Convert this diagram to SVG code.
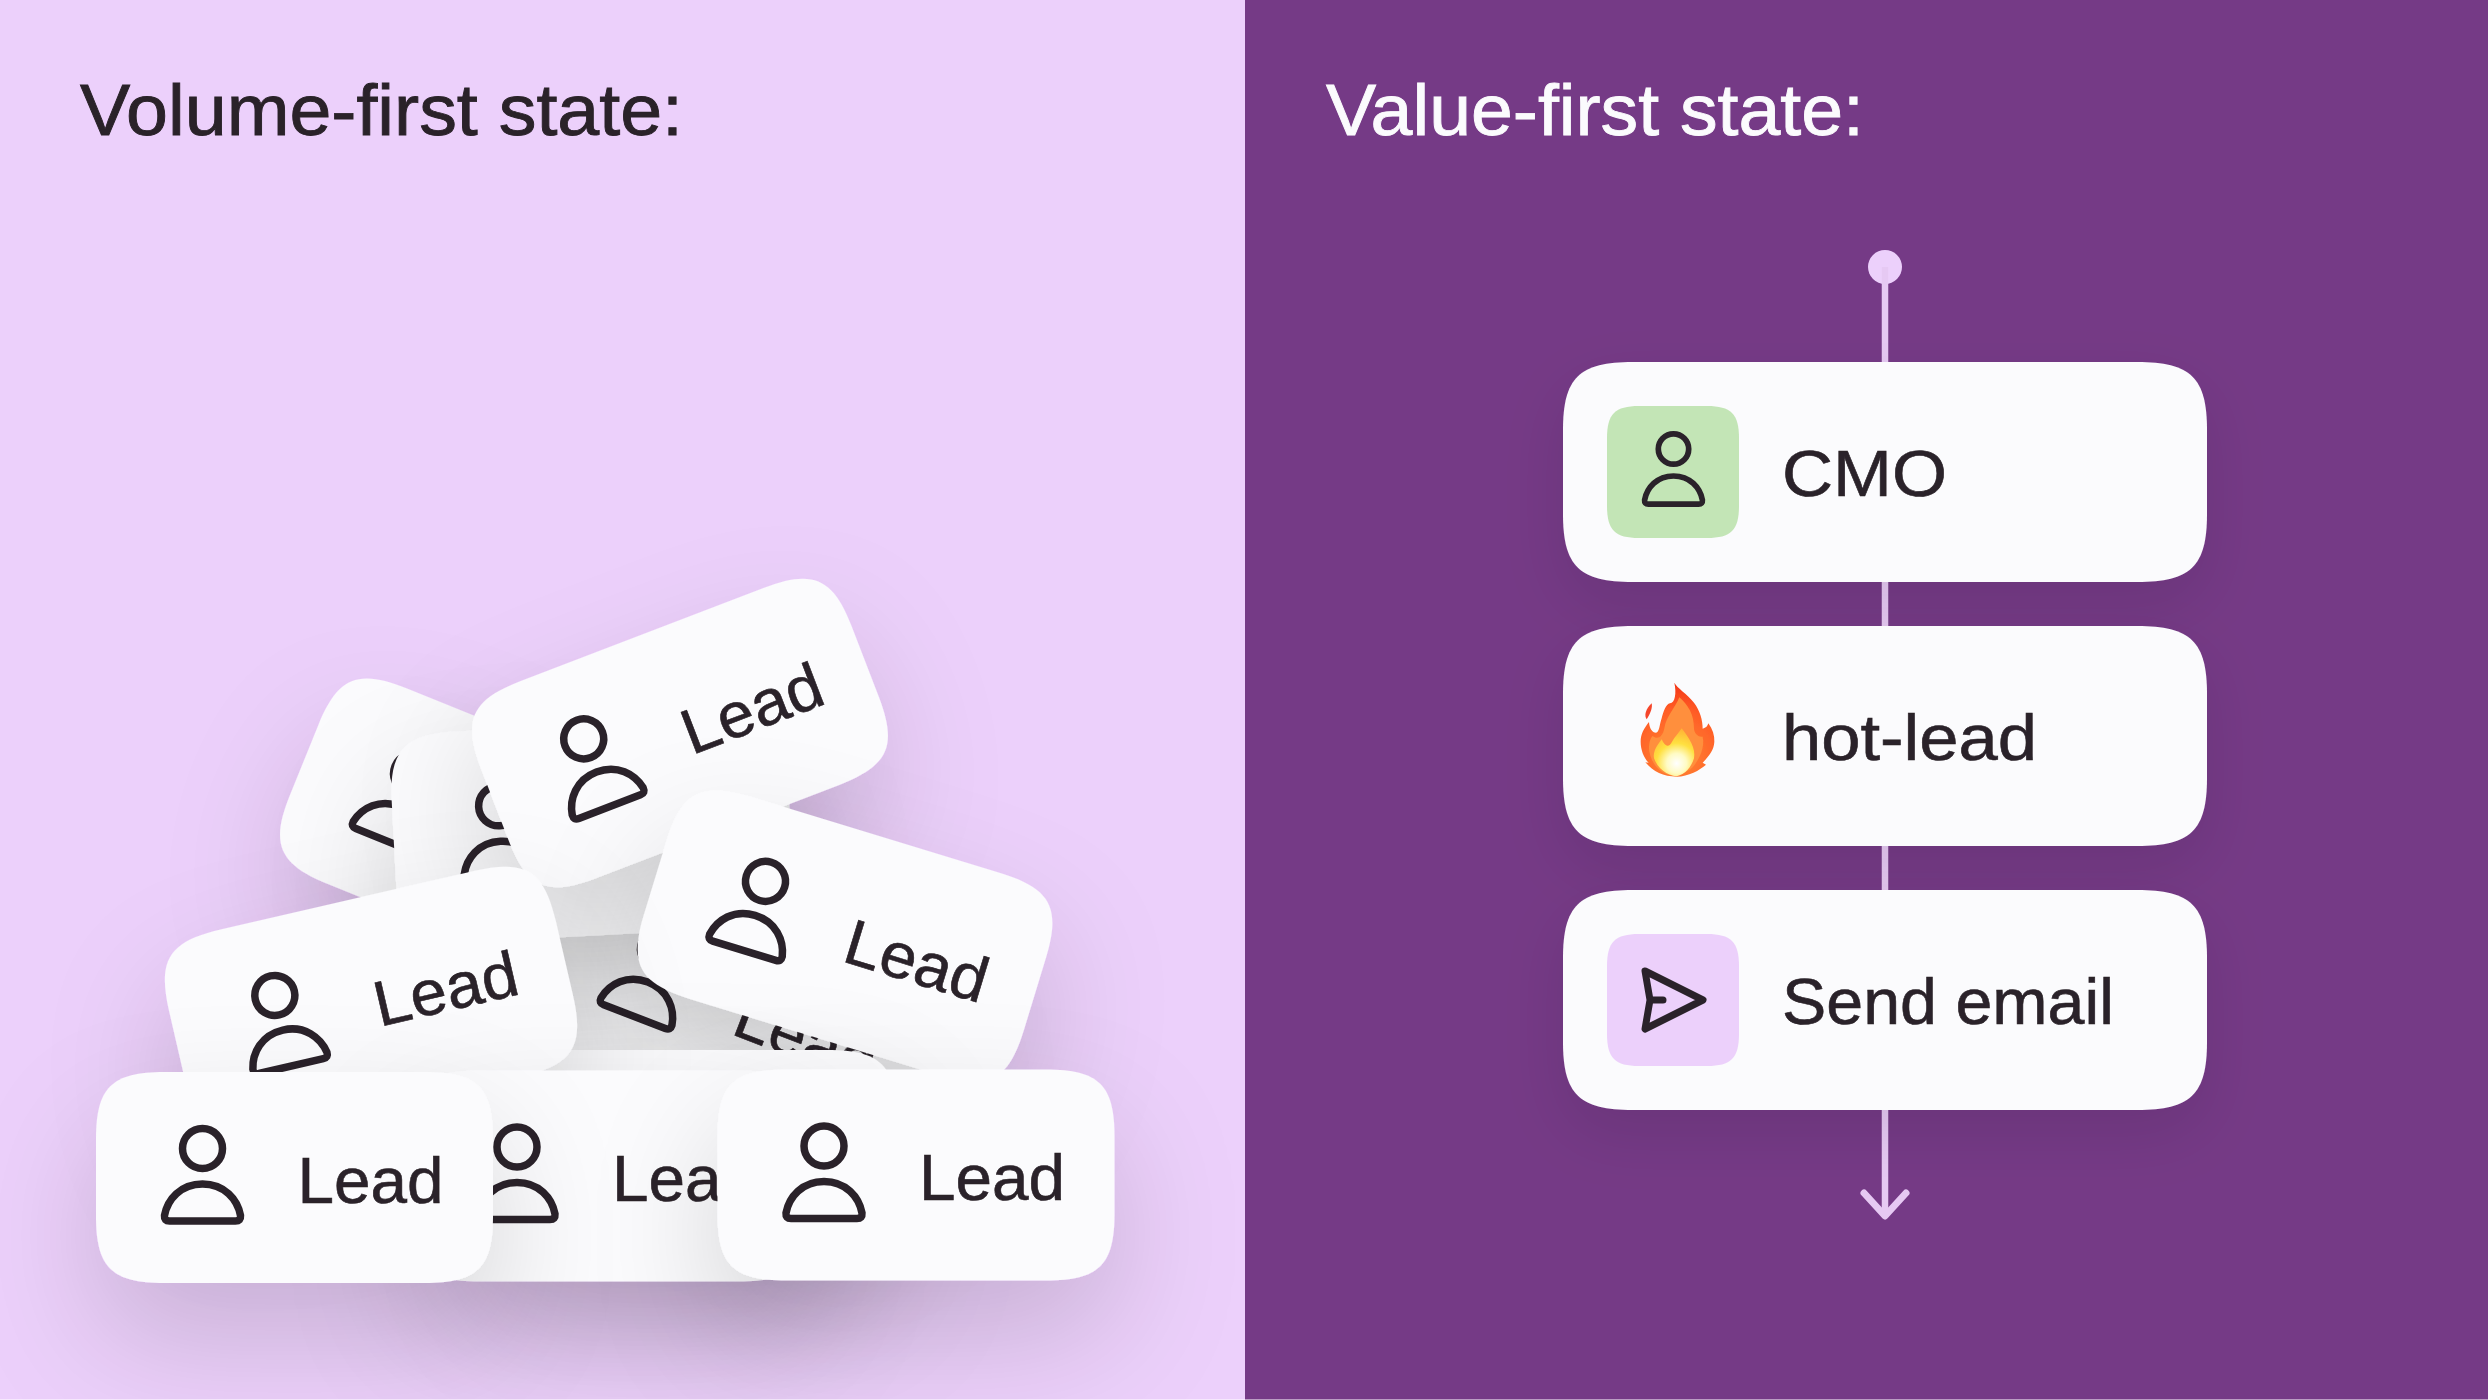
<svg xmlns="http://www.w3.org/2000/svg" width="2488" height="1400" viewBox="0 0 2488 1400">
<style>
text{font-family:"Liberation Sans",Arial,sans-serif;fill:#2a2229;stroke:#2a2229;stroke-width:.6}
.title{font-size:72px;stroke-width:.9px}
.title.light{fill:#fbfbfd;stroke:#fbfbfd}
.lead{font-size:64px}
.step{font-size:65px}
.card{fill:#fbfbfd}
.ico{fill:none;stroke:#2a2229;stroke-width:7.5;stroke-linejoin:round;stroke-linecap:round}
.wire{fill:none;stroke:#e6c9f3;stroke-width:6.5}
</style>
<defs>
<filter id="sh" filterUnits="userSpaceOnUse" x="0" y="0" width="2488" height="1400">
<feDropShadow dx="0" dy="58" stdDeviation="62" flood-color="#000" flood-opacity=".15"/>
</filter>
<filter id="shr" filterUnits="userSpaceOnUse" x="1245" y="0" width="1243" height="1400">
<feDropShadow dx="0" dy="24" stdDeviation="30" flood-color="#000" flood-opacity=".09"/>
</filter>
<path id="c-s" d="M-130-105.500H130C183-105.500 198.500-90 198.500-38V38C198.500 90 183 105.500 130 105.500H-130C-183 105.500-198.500 90-198.500 38V-38C-198.500-90-183-105.500-130-105.500Z"/>
<path id="c-l" d="M-252-110H252C306-110 322-94 322-42V42C322 94 306 110 252 110H-252C-306 110-322 94-322 42V-42C-322-94-306-110-252-110Z"/>
<path id="tile" d="M-34-66H34C58-66 66-58 66-34V34C66 58 58 66 34 66H-34C-58 66-66 58-66 34V-34C-66-58-58-66-34-66Z"/>
<g id="person" class="ico">
<circle cx="0" cy="0" r="20"/>
<path d="M0 35.500C22 35.500 35 51 38 67Q38.500 72.500 33 72.500H-33Q-38.500 72.500-38 67C-35 51-22 35.500 0 35.500Z"/>
</g>
<g id="lead-face">
<use href="#c-s" class="card"/>
<use href="#person" x="-92" y="-29"/>
<text class="lead" x="3" y="25" textLength="146" lengthAdjust="spacingAndGlyphs">Lead</text>
</g>
<marker id="arrow" markerUnits="userSpaceOnUse" markerWidth="60" markerHeight="60" refX="30" refY="30" orient="auto" overflow="visible">
<path d="M9 9L32 30L9 51" fill="none" stroke="#e6c9f3" stroke-width="7" stroke-linecap="round" stroke-linejoin="round"/>
</marker>
<radialGradient id="fl" gradientUnits="userSpaceOnUse" cx="170" cy="290" r="240">
<stop offset="0" stop-color="#ff8a35"/><stop offset=".6" stop-color="#ff5c26"/><stop offset="1" stop-color="#f02a14"/>
</radialGradient>
<radialGradient id="fi" gradientUnits="userSpaceOnUse" cx="170" cy="310" r="135">
<stop offset="0" stop-color="#ffffff"/><stop offset=".22" stop-color="#fffbc4"/><stop offset=".45" stop-color="#ffe040"/><stop offset=".8" stop-color="#ffae34"/><stop offset="1" stop-color="#ff9a34"/>
</radialGradient>
</defs>

<g id="panels">
<rect x="0" y="0" width="1245" height="1400" fill="#ecd0fb"/>
<rect x="1245" y="0" width="1243" height="1400" fill="#753a86"/>
</g>

<g id="pile">
<g id="lead-back-left" filter="url(#sh)"><use href="#lead-face" transform="translate(488 835) rotate(22)"/></g>
<g id="lead-back-right" filter="url(#sh)"><use href="#lead-face" transform="translate(736 1009) rotate(21)"/></g>
<g id="lead-upright" filter="url(#sh)"><use href="#lead-face" transform="translate(592 830) rotate(-3)"/></g>
<g id="lead-top" filter="url(#sh)"><use href="#lead-face" transform="translate(680 733) rotate(-21)"/></g>
<g id="lead-right" filter="url(#sh)"><use href="#lead-face" transform="translate(845 936) rotate(17)"/></g>
<g id="lead-shelf" filter="url(#sh)"><use href="#c-s" class="card" transform="translate(697.500 1155.500)"/></g>
<g id="lead-left" filter="url(#sh)"><use href="#lead-face" transform="translate(371 1003) rotate(-13)"/></g>
<g id="lead-bottom-mid" filter="url(#sh)"><use href="#lead-face" transform="translate(609 1176)"/></g>
<g id="lead-bottom-left" filter="url(#sh)"><use href="#lead-face" transform="translate(294.500 1177.500)"/></g>
<g id="lead-bottom-right" filter="url(#sh)"><use href="#lead-face" transform="translate(916 1175)"/></g>
</g>

<g id="connectors">
<circle cx="1885" cy="267" r="17" fill="#ecd0fb"/>
<line class="wire" x1="1885" y1="267" x2="1885" y2="1214" marker-end="url(#arrow)"/>
</g>

<g id="step-cmo" filter="url(#shr)">
<use href="#c-l" class="card" transform="translate(1885 472)"/>
<use href="#tile" transform="translate(1673 472)" fill="#c3e5b6"/>
<use href="#person" transform="translate(1673.500 449) scale(.76)"/>
<text class="step" x="1782" y="496" textLength="165" lengthAdjust="spacingAndGlyphs">CMO</text>
</g>

<g id="step-hot-lead" filter="url(#shr)">
<use href="#c-l" class="card" transform="translate(1885 736)"/>
<g id="flame" transform="translate(1620 660) scale(.33333)">
<path fill="#f5452a" d="M95 130C98 142 92 160 80 178C72 168 76 148 95 130Z"/>
<path fill="url(#fl)" d="M163 68C172 85 200 100 222 128C240 152 248 180 248 206C258 204 263 198 265 190C278 208 284 226 283 245C282 268 270 285 248 308L258 314C240 330 205 350 170 350C130 350 100 335 76 307L86 308C70 292 62 268 62 245C62 222 72 205 87 186C88 205 97 218 108 218C118 218 118 195 125 175C130 155 138 132 150 130C165 128 170 100 163 68Z"/>
<path fill="#ff8f3c" d="M178 112C205 135 222 165 222 205C222 218 232 232 248 230C255 260 240 295 218 322C198 340 170 348 150 346C118 338 95 310 88 275C85 255 90 235 98 228C112 240 128 232 133 205C138 170 165 145 178 112Z"/>
<path fill="url(#fi)" d="M185 205C208 235 228 265 222 295C214 322 195 344 170 349C142 347 112 325 102 295C98 275 112 255 125 238C135 262 148 262 156 245C165 230 175 220 185 205Z"/>
</g>
<text class="step" x="1782" y="760" textLength="255" lengthAdjust="spacingAndGlyphs">hot-lead</text>
</g>

<g id="step-send-email" filter="url(#shr)">
<use href="#c-l" class="card" transform="translate(1885 1000)"/>
<use href="#tile" transform="translate(1673 1000)" fill="#ecd0fb"/>
<path class="ico" style="stroke-width:7" d="M1645 971L1703 1000L1645 1029L1650 1000ZM1650 1000H1663"/>
<text class="step" x="1782" y="1024" textLength="332" lengthAdjust="spacingAndGlyphs">Send email</text>
</g>

<text class="title" x="80" y="135" textLength="603" lengthAdjust="spacingAndGlyphs">Volume-first state:</text>
<text class="title light" x="1326" y="135" textLength="538" lengthAdjust="spacingAndGlyphs">Value-first state:</text>
<rect id="edge" x="0" y="1399" width="2488" height="1" fill="#fff" opacity=".5"/>
</svg>
